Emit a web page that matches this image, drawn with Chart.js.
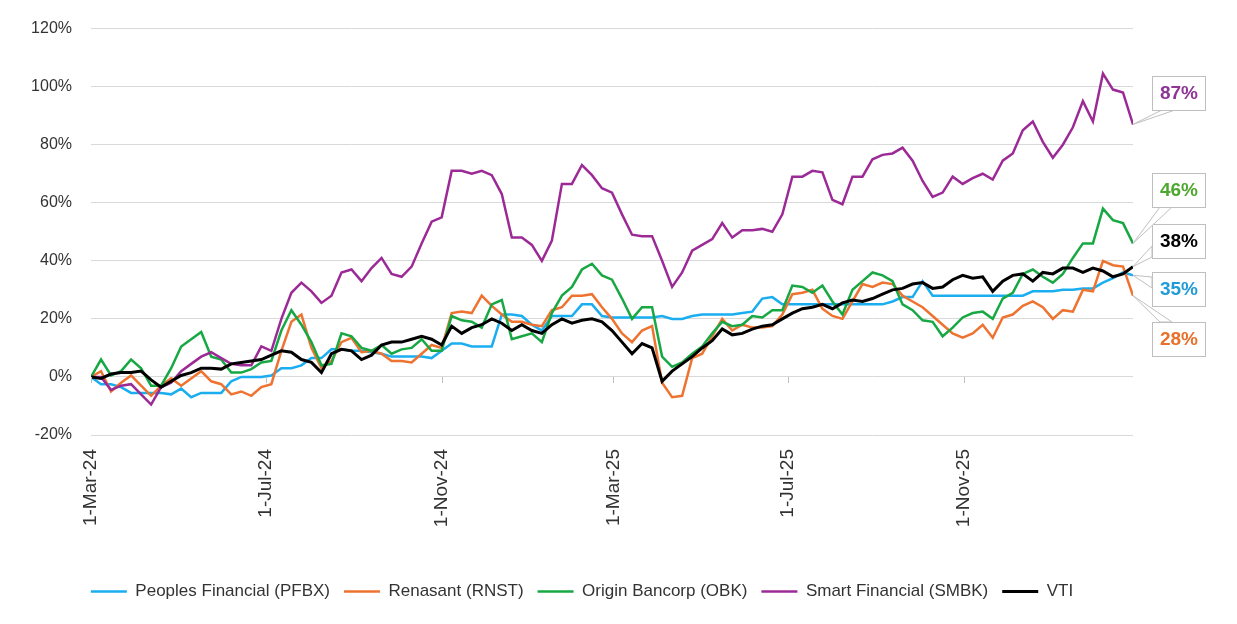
<!DOCTYPE html>
<html lang="en">
<head>
    <meta charset="UTF-8">
    <title>Bank stock total return vs VTI</title>
    <script src="https://cdn.jsdelivr.net/npm/chart.js"></script>
    <style>
        body {
            margin: 0;
            padding: 0;
            background: #ffffff;
        }
        .chart-container {
            position: relative;
            width: 1237px;
            height: 624px;
        }
    </style>
</head>
<body>
    <div class="chart-container">
        <canvas id="returnsChart"></canvas>
    </div>

    <script>
        // days since 1-Mar-24, one point a week
        const weekDays = [
            0, 7, 14, 21, 28, 35, 42, 49, 56, 63,
            70, 77, 84, 91, 98, 105, 112, 119, 126, 133,
            140, 147, 154, 161, 168, 175, 182, 189, 196, 203,
            210, 217, 224, 231, 238, 245, 252, 259, 266, 273,
            280, 287, 294, 301, 308, 315, 322, 329, 336, 343,
            350, 357, 364, 371, 378, 385, 392, 399, 406, 413,
            420, 427, 434, 441, 448, 455, 462, 469, 476, 483,
            490, 497, 504, 511, 518, 525, 532, 539, 546, 553,
            560, 567, 574, 581, 588, 595, 602, 609, 616, 623,
            630, 637, 644, 651, 658, 665, 672, 679, 686, 693,
            700, 707, 714, 721, 728
        ];

        const tickDays = [0, 122, 245, 365, 487, 610];
        const tickLabels = ['1-Mar-24', '1-Jul-24', '1-Nov-24', '1-Mar-25', '1-Jul-25', '1-Nov-25'];

        // cumulative return, %
        const pfbx = [
            0, -2.5, -2.5, -3.5, -5.5, -5.5, -5.5, -5.5, -6, -4,
            -7, -5.5, -5.5, -5.5, -1.5, 0, 0, 0, 0.5, 3,
            3, 4, 6.5, 6.5, 9.5, 9.5, 9, 9, 8.5, 8,
            7, 7, 7, 7, 6.5, 9, 11.5, 11.5, 10.5, 10.5,
            10.5, 21.5, 21.5, 21, 18, 16, 21, 21, 21, 25,
            25, 21, 20.5, 20.5, 20.5, 20.5, 20.5, 21, 20, 20,
            21, 21.5, 21.5, 21.5, 21.5, 22, 22.5, 27, 27.5, 25,
            25, 25, 25, 25, 25, 25, 25, 25, 25, 25,
            26, 27.5, 27.5, 33, 28, 28, 28, 28, 28, 28,
            28, 28, 28, 28, 29.5, 29.5, 29.5, 30, 30, 30.5,
            30.5, 32.5, 34, 36, 35
        ];
        const rnst = [
            0, 2, -5, -2, 0.5, -3, -6.5, -3, -0.5, -3,
            -0.5, 2, -1.5, -2.5, -6, -5, -6.5, -3.5, -2.5, 9,
            19, 21.5, 10, 3, 5.5, 12, 13.5, 8.5, 9, 8,
            5.5, 5.5, 5, 8, 11, 10, 22, 22.5, 22, 28,
            24.5, 21.5, 19, 19, 18, 17.5, 23, 24, 28, 28,
            28.5, 24, 20, 15, 12, 16, 17.5, -2, -7, -6.5,
            6.5, 8, 14, 20, 16, 18, 17, 17, 17.5, 21.5,
            28.5, 29, 30, 23.5, 21, 20, 26, 32, 31, 32.5,
            32, 28, 26, 24, 21, 18, 15, 13.5, 15, 18,
            13.5, 20.5, 21.5, 24.5, 26, 24, 20, 23, 22.5, 30,
            29.5, 40, 38.5, 38, 28
        ];
        const obk = [
            0, 6, 0.5, 2, 6, 3, -3, -3, 3, 10.5,
            13, 15.5, 7, 6, 1.5, 1.5, 2.7, 5, 5.5, 16,
            23, 18, 12, 4, 4.5, 15, 14, 10, 9, 11,
            8, 9.5, 10, 13, 9, 9, 21, 19.5, 19, 17,
            25, 26.5, 13, 14, 15, 12, 22, 28, 31, 37,
            39, 35, 33.5, 27, 20, 24, 24, 7, 3.5, 5,
            8, 10.5, 15, 19, 17.5, 18, 21, 20.5, 23, 23,
            31.5, 31, 29, 31.5, 26, 21.5, 30, 33, 36, 35,
            33, 25, 23, 19.5, 19, 14, 17, 20.5, 22, 22.5,
            20, 27, 29, 35.5, 37, 34.5, 32.5, 35.5, 41, 46,
            46, 58, 54, 53, 46
        ];
        const smbk = [
            0, 0, -4.5, -3, -2.5, -6, -9.5, -3.5, -2, 2,
            4.5, 7, 8.5, 6.5, 4.5, 4, 4, 10.5, 9, 20,
            29, 32.5, 29.5, 25.5, 28, 36, 37, 33, 37.5, 41,
            35.5, 34.5, 38, 46, 53.5, 55, 71, 71, 70, 71,
            69.5, 63, 48, 48, 45.5, 40, 47, 66.5, 66.5, 73,
            69.5, 65, 63.5, 56, 49, 48.5, 48.5, 40, 31, 36,
            43.5, 45.5, 47.5, 53, 48, 50.5, 50.5, 51, 50, 56,
            69, 69, 71, 70.5, 61, 59.5, 69, 69, 75, 76.5,
            77, 79, 74.5, 67.5, 62, 63.5, 69, 66.5, 68.5, 70,
            68, 74.5, 77, 85, 88, 81, 75.5, 80, 86, 95,
            88, 104.5, 99, 98, 87
        ];
        const vti = [
            0, -0.5, 1, 1.5, 1.5, 2, -1, -3.5, -1.5, 0.5,
            1.5, 3, 3, 2.7, 4.5, 5, 5.5, 6, 7.5, 9,
            8.5, 6, 5, 1.5, 8, 9.5, 9, 6, 7.5, 11,
            12, 12, 13, 14, 13, 11, 17.5, 15, 17, 18,
            20, 18.5, 16, 18, 16, 15, 18, 20, 18.5, 19.5,
            20, 19, 16, 12, 8, 11.5, 10, -1.5, 2, 4.5,
            7, 10, 12.5, 16.5, 14.5, 15, 16.5, 17.5, 18, 20,
            22, 23.5, 24, 25, 23.5, 25.5, 26.5, 26, 27, 28.5,
            30, 30.5, 32, 32.5, 30.5, 31, 33.5, 35, 34, 34.5,
            29.5, 33, 35, 35.5, 33, 36, 35.5, 37.5, 37.5, 36,
            37.5, 36.5, 34.5, 35.5, 38
        ];

        const FONT = "'Liberation Sans', Arial, sans-serif";

        // end-of-line callout boxes (layout only)
        const calloutStyle = {
            'Smart Financial (SMBK)': { top: 76, text: '#8E3596', side: 'bottom', a: 10, b: 23 },
            'Origin Bancorp (OBK)': { top: 173, text: '#4EA72E', side: 'bottom', a: 8, b: 20 },
            'VTI': { top: 224, text: '#000000', side: 'left', a: 22, b: 33 },
            'Peoples Financial (PFBX)': { top: 272, text: '#1F9BD7', side: 'left', a: 5, b: 16 },
            'Renasant (RNST)': { top: 322, text: '#E8702A', side: 'top', a: 8, b: 20 }
        };

        function toPoints(values) {
            return values.map((v, i) => ({ x: weekDays[i], y: v }));
        }

        function line(label, values, color, width) {
            return {
                label: label,
                data: toPoints(values),
                borderColor: color,
                backgroundColor: color,
                borderWidth: width,
                pointRadius: 0,
                tension: 0
            };
        }

        const endCallouts = {
            id: 'endCallouts',
            afterDatasetsDraw(chart) {
                const { ctx, chartArea, scales } = chart;
                ctx.save();

                // small tick marks hanging off the 0% line
                const y0 = scales.y.getPixelForValue(0);
                ctx.strokeStyle = '#bfbfbf';
                ctx.lineWidth = 1;
                tickDays.forEach(d => {
                    const x = Math.round(scales.x.getPixelForValue(d)) + 0.5;
                    ctx.beginPath();
                    ctx.moveTo(x, y0);
                    ctx.lineTo(x, y0 + 6);
                    ctx.stroke();
                });

                const bw = 53, bh = 34;
                const bx = chartArea.right + 19;
                chart.data.datasets.forEach((ds, i) => {
                    const c = calloutStyle[ds.label];
                    const pts = chart.getDatasetMeta(i).data;
                    const p = pts[pts.length - 1];
                    const by = c.top;

                    let b1, b2;
                    if (c.side === 'bottom') {
                        b1 = [bx + c.a, by + bh]; b2 = [bx + c.b, by + bh];
                    } else if (c.side === 'top') {
                        b1 = [bx + c.a, by]; b2 = [bx + c.b, by];
                    } else {
                        b1 = [bx, by + c.a]; b2 = [bx, by + c.b];
                    }
                    ctx.beginPath();
                    ctx.moveTo(p.x, p.y);
                    ctx.lineTo(b1[0], b1[1]);
                    ctx.lineTo(b2[0], b2[1]);
                    ctx.closePath();
                    ctx.fillStyle = '#ffffff';
                    ctx.fill();
                    ctx.strokeStyle = '#bfbfbf';
                    ctx.stroke();

                    ctx.fillStyle = '#ffffff';
                    ctx.fillRect(bx, by, bw, bh);
                    ctx.strokeRect(bx + 0.5, by + 0.5, bw, bh);

                    const last = ds.data[ds.data.length - 1].y;
                    ctx.fillStyle = c.text;
                    ctx.font = 'bold 19px ' + FONT;
                    ctx.textAlign = 'center';
                    ctx.textBaseline = 'middle';
                    ctx.fillText(Math.round(last) + '%', bx + bw / 2 + 0.5, by + bh / 2 + 1);
                });
                ctx.restore();
            }
        };

        const ctx = document.getElementById('returnsChart').getContext('2d');
        // VTI first so it sits on top; legend is reversed back to the original order
        const chart = new Chart(ctx, {
            type: 'line',
            data: {
                datasets: [
                    line('VTI', vti, '#000000', 3),
                    line('Smart Financial (SMBK)', smbk, '#9C2A96', 2.5),
                    line('Origin Bancorp (OBK)', obk, '#17A844', 2.5),
                    line('Renasant (RNST)', rnst, '#EE7330', 2.5),
                    line('Peoples Financial (PFBX)', pfbx, '#1AADEF', 2.5)
                ]
            },
            options: {
                responsive: true,
                maintainAspectRatio: false,
                animation: false,
                layout: {
                    padding: { top: 19, left: 31, right: 104, bottom: 14 }
                },
                plugins: {
                    legend: {
                        position: 'bottom',
                        reverse: true,
                        labels: {
                            usePointStyle: true,
                            pointStyle: 'line',
                            pointStyleWidth: 36,
                            padding: 14,
                            color: '#333333',
                            font: { family: FONT, size: 17 }
                        }
                    },
                    tooltip: { enabled: false }
                },
                scales: {
                    x: {
                        type: 'linear',
                        min: 0,
                        max: 728,
                        grid: { display: false, drawTicks: false },
                        border: { display: false },
                        afterBuildTicks: (scale) => {
                            scale.ticks = tickDays.map(v => ({ value: v }));
                        },
                        afterFit: (scale) => {
                            scale.height = 134;
                        },
                        ticks: {
                            autoSkip: false,
                            minRotation: 90,
                            maxRotation: 90,
                            padding: 14,
                            color: '#333333',
                            font: { family: FONT, size: 19 },
                            callback: (value) => tickLabels[tickDays.indexOf(value)]
                        }
                    },
                    y: {
                        min: -20,
                        max: 120,
                        grid: { color: '#d9d9d9', drawTicks: false },
                        border: { display: false },
                        afterFit: (scale) => {
                            scale.width = 60;
                        },
                        ticks: {
                            stepSize: 20,
                            padding: 19,
                            color: '#333333',
                            font: { family: FONT, size: 16 },
                            callback: (value) => value + '%'
                        }
                    }
                }
            },
            plugins: [endCallouts]
        });
    </script>
</body>
</html>
